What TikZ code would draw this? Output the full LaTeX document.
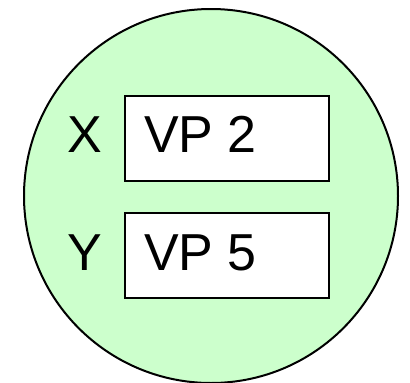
\documentclass[tikz,border=0pt]{standalone}
\usepackage{fontspec}
\setmainfont{Liberation Sans}
\definecolor{paleGreen}{HTML}{CCFFCC}
\begin{document}
\begin{tikzpicture}[x=1pt,y=-1pt,
  slot/.style={draw=black,line width=2pt,fill=white,rectangle,inner sep=0pt,
               minimum width=204pt,minimum height=85pt},
  big/.style={inner sep=0pt,font=\fontsize{52}{60}\selectfont}]
  \useasboundingbox (0,0) rectangle (410,383);
  % enclosing region
  \node[draw=black,line width=2pt,fill=paleGreen,circle,inner sep=0pt,
        minimum size=374pt] (region) at (211,196) {};
  % two slots with their labels
  \node[slot] (slotX) at (227,138.5) {};
  \node[slot] (slotY) at (227,255.5) {};
  \node[big,anchor=base west] (vpTwo) at (144,152.7) {VP 2};
  \node[big,anchor=base west] (vpFive) at (144,270.7) {VP 5};
  \node[big,anchor=base west] (labX) at (67,152.7) {X};
  \node[big,anchor=base west] (labY) at (67,270.7) {Y};
\end{tikzpicture}
\end{document}
